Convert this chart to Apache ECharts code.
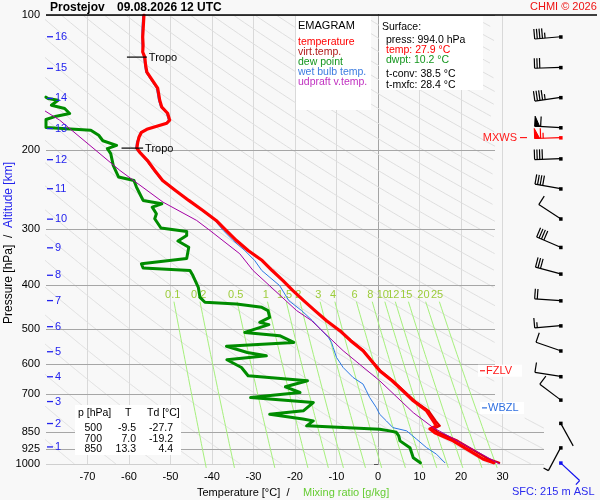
<!DOCTYPE html>
<html>
<head>
<meta charset="utf-8">
<title>Emagram Prostejov</title>
<script src="https://cdn.jsdelivr.net/npm/echarts@6.0.0/dist/echarts.min.js"></script>
<style>
html,body{margin:0;padding:0;background:#f8f8f8;}
#chart{width:600px;height:500px;}
</style>
</head>
<body>
<div id="chart"></div>
<script>
// ---------------- axis ticks / reference line labels ----------------
const pressureTicks = [100, 200, 300, 400, 500, 600, 700, 850, 925, 1000];
const tempTicks = [-70, -60, -50, -40, -30, -20, -10, 0, 10, 20, 30];
const mixingRatios = [0.1, 0.2, 0.5, 1, 1.5, 2, 3, 4, 6, 8, 10, 12, 15, 20, 25];
const potTemps = [190, 200, 210, 220, 230, 240, 250, 260, 270, 280, 290, 300, 310, 320, 330, 340, 350, 360, 370, 380, 390, 400, 410, 420, 430, 440, 450, 460, 470, 480, 490, 500, 510, 520, 530, 540, 550, 560, 570, 580, 590, 600];
const altitudeKm = [1, 2, 3, 4, 5, 6, 7, 8, 9, 10, 11, 12, 13, 14, 15, 16];
const altitudeP = [916.2, 812.6, 726.0, 639.3, 562.3, 494.5, 432.6, 379.9, 330.0, 284.9, 243.7, 210.0, 179.0, 153.4, 131.5, 111.8];

// ---------------- sounding profiles (p in hPa, T in °C) ----------------
const tempP = [994, 974.7, 935.1, 888.2, 852.4, 835.1, 822.3, 801.5, 761.3, 723.2, 687.0, 652.6, 619.9, 588.8, 559.4, 531.3, 504.7, 479.5, 455.4, 432.6, 411.0, 390.4, 370.8, 352.3, 334.6, 317.9, 301.9, 286.8, 272.5, 258.8, 245.9, 233.6, 221.9, 210.7, 202.2, 198.1, 192.1, 187.2, 182.5, 179.7, 176.9, 174.2, 171.5, 165.5, 160.4, 154.8, 150.9, 145.5, 139.7, 134.0, 129.3, 124.1, 120.9, 116.7, 112.0, 108.0, 100];
const tempT = [27.9, 25.3, 22.1, 18.1, 13.7, 12.5, 14.1, 13.3, 11.7, 8.5, 6.0, 3.4, 0.4, -1.6, -3.6, -6.6, -9.2, -12.4, -15.2, -17.9, -20.5, -22.9, -25.5, -27.9, -31.3, -34.1, -36.6, -39.0, -42.2, -45.6, -48.8, -51.9, -53.8, -55.6, -57.4, -58.1, -57.9, -57.6, -57.0, -55.7, -53.3, -50.9, -50.2, -50.7, -52.1, -52.6, -52.8, -53.1, -54.4, -55.7, -56.0, -56.2, -56.7, -56.6, -56.7, -56.6, -56.4];

const virtP = [994, 974.7, 935.1, 888.2, 852.4, 835.1, 822.3, 801.5, 761.3, 723.2, 687.0, 652.6, 619.9, 588.8, 559.4, 531.3, 504.7];
const virtT = [29.2, 26.6, 23.3, 19.2, 14.7, 13.4, 14.9, 13.9, 12.2, 8.8, 6.2, 3.6, 0.6, -1.5, -3.5, -6.5, -9.1];

const dewP = [994, 968.2, 919.6, 888.2, 866.0, 850, 843.7, 836.4, 822.3, 801.5, 793.6, 774.7, 761.3, 729.7, 711.2, 693.1, 673.1, 652.6, 636.0, 609.5, 585.8, 574.1, 564.4, 546.7, 536.1, 517.9, 509.2, 489.4, 483.7, 471.4, 455.4, 447.8, 440.0, 436.4, 425.4, 404.1, 380.5, 370.8, 366.1, 358.3, 348.7, 329.0, 318.7, 309.8, 303.5, 298.1, 284.3, 277.1, 267.9, 263.3, 258.8, 250.1, 241.7, 233.6, 229.6, 216.2, 203.6, 198.4, 195.1, 190.6, 185.3, 180.6, 178.1, 170.9, 168.0, 165.7, 161.5, 158.8, 154.8, 153.4, 152.4];
const dewT = [10.2, 8.5, 7.7, 5.3, 5.0, 4.4, 2.8, 0.4, -17.2, -15.6, -18.1, -26.1, -18.0, -15.6, -30.7, -18.8, -22.3, -17.0, -31.3, -32.9, -36.4, -26.9, -31.5, -36.5, -20.3, -23.7, -32.1, -26.3, -28.5, -26.1, -26.5, -28.0, -34.1, -41.7, -42.9, -43.3, -44.6, -45.3, -56.6, -57.0, -46.1, -45.6, -48.2, -46.1, -46.1, -52.3, -53.8, -53.4, -54.4, -52.1, -56.6, -57.4, -58.2, -58.8, -62.5, -63.8, -64.4, -65.2, -63.0, -66.3, -67.3, -69.2, -80.0, -80.0, -77.5, -74.3, -75.5, -78.7, -77.1, -79.5, -80.0];

const wetP = [993.4, 951.1, 919.6, 880.5, 843.7, 829.9, 801.5, 774.7, 748.7, 711.2, 687.0, 663.8, 641.7, 609.5, 578.9, 550.0, 536.1, 523.3, 499.6, 479.5, 455.4, 432.6, 400.6, 370.8, 352.3, 334.6, 317.9, 301.9, 286.8, 272.5, 258.8, 245.9, 233.6, 221.9, 210.7, 202.2, 198.1, 192.1, 182.5, 179.7, 176.9, 174.2, 171.5, 165.5, 160.4, 154.8, 145.5, 139.7, 134.0, 124.1, 116.7, 108.0, 100];
const wetT = [16.1, 14.1, 11.7, 9.3, 6.9, 3.6, 2.0, 0.4, -0.4, -2.0, -2.8, -3.6, -6.0, -8.4, -10.0, -10.8, -11.2, -11.9, -14.0, -15.8, -18.4, -21.5, -23.7, -28.0, -29.7, -32.1, -34.9, -37.3, -39.3, -42.5, -45.8, -49.1, -52.2, -54.1, -55.9, -57.7, -58.4, -58.2, -57.3, -56.0, -53.6, -51.2, -50.5, -51.0, -52.4, -52.9, -53.4, -54.7, -56.0, -56.5, -56.9, -56.9, -56.7];

const parcelP = [1000, 829.9, 768.4, 652.6, 559.4, 479.5, 455.4, 370.8, 340.3, 301.9, 286.8, 261.1, 221.9, 171.5, 163.0];
const parcelT = [29.3, 13.3, 8.5, 0.4, -8.4, -16.0, -19.6, -30.1, -33.3, -40.5, -43.7, -51.8, -62.2, -76.7, -80.5];

// tropopause marks
const tropoP = [124.1, 197.9];
const tropoT1 = [-60.5, -61.8];
const tropoT2 = [-55.7, -56.6];

// wind barbs: pressure, direction (deg), speed (kt)
const windP = [111.8, 130.8, 152.6, 178.1, 208.9, 243.7, 284.3, 329.0, 377.1, 432.6, 491.9, 559.4, 638.3, 719.7, 811.0, 919.6];
const windDir = [265, 268, 262, 273, 268, 280, 303, 293, 285, 274, 265, 289, 279, 307, 151, 208];
const windSpd = [45, 30, 45, 60, 40, 40, 10, 40, 30, 20, 15, 10, 10, 10, 2, 5];
const maxWindP = [187.5], maxWindDir = [268], maxWindSpd = [65];
const sfcWindP = [994], sfcWindDir = [133], sfcWindSpd = [5];

// level markers
const levelNames = ['FZLV', 'WBZL', 'MXWS'];
const levelP = [619.9, 749.9, 187.5];

// table values
const statP = [500, 700, 850];
const statT = [-9.5, 7.0, 13.3];
const statTd = [-27.7, -19.2, 4.4];

// ---------------- styling ----------------
const F = '"Liberation Sans", Arial, Helvetica, sans-serif';
const ALT_BLUE = '#2222ee';
const C_T = '#ff0000', C_TV = '#e00000', C_TD = '#008c00', C_WB = '#2a78e4', C_UP = '#a400a4';
const BARB_T = 44.0;   // column of wind barbs (beyond plotted temperature range)
const rightEdge = p => (p < 790 ? 28.2 : 40);

function dewFromMix(w, p) {
  const e = w * p / (622 + w);
  const l = Math.log(e / 6.112);
  return 243.5 * l / (17.67 - l);
}
const zip = (P, T) => P.map((p, i) => [T[i], p]);

// reference grid data
const vertLines = tempTicks.map(t => ({coords: [[t, 100], [t, 1000]], lineStyle: {color: t === 0 ? '#a4a4a4' : '#d9d9d9'}}));
const horLines = pressureTicks.map(p => ({coords: [[-80, p], [rightEdge(p), p]]}));
const dryLines = [];
potTemps.forEach(th => {
  let seg = [];
  for (let p = 100; p <= 1000; p += 2) {
    const T = th * Math.pow(p / 1000, 0.2857) - 273.15;
    if (T <= rightEdge(p)) seg.push([T, p]);
    else { if (seg.length > 1) dryLines.push({coords: seg}); seg = []; }
  }
  if (seg.length > 1) dryLines.push({coords: seg});
});
const mixLines = mixingRatios.map(w => {
  const c = [];
  for (let p = 435; p <= 1030; p += 15) c.push([dewFromMix(w, p), p]);
  return {coords: c};
});

const lineSeries = (name, data, color, width, z) => ({
  name, type: 'line', data, symbol: 'none', silent: true, animation: false, z,
  lineStyle: {color, width, cap: 'round', join: 'round'}
});

function renderBarb(params, api) {
  const p = api.value(1), dir = api.value(2), spd = api.value(3), kind = api.value(4);
  const c = api.coord([api.value(0), p]);
  const col = kind === 1 ? '#ff0000' : (kind === 2 ? '#1010ee' : '#000000');
  const L = 26, FL = 10, SP = 2.6;
  const r = dir * Math.PI / 180;
  const sx = Math.sin(r), sy = -Math.cos(r);
  const fx = -sy, fy = sx;
  const ex = c[0] + sx * L, ey = c[1] + sy * L;
  const ch = [{type: 'line', shape: {x1: c[0], y1: c[1], x2: ex, y2: ey}, style: {stroke: col, lineWidth: 1.2}}];
  let s = Math.round(spd / 5) * 5;
  const flags = Math.floor(s / 50); s -= flags * 50;
  const full = Math.floor(s / 10); s -= full * 10;
  const half = s >= 5 ? 1 : 0;
  let d = 0;
  for (let i = 0; i < flags; i++) {
    const ax = ex - sx * d, ay = ey - sy * d;
    ch.push({type: 'polygon', shape: {points: [[ax, ay], [ax + fx * FL, ay + fy * FL], [ex - sx * (d + 5), ey - sy * (d + 5)]]}, style: {fill: col, stroke: col, lineWidth: 1}});
    d += 6;
  }
  for (let i = 0; i < full; i++) {
    const ax = ex - sx * d, ay = ey - sy * d;
    ch.push({type: 'line', shape: {x1: ax, y1: ay, x2: ax + fx * FL, y2: ay + fy * FL}, style: {stroke: col, lineWidth: 1.2}});
    d += SP;
  }
  if (half) {
    const ax = ex - sx * d, ay = ey - sy * d;
    ch.push({type: 'line', shape: {x1: ax, y1: ay, x2: ax + fx * FL * 0.55, y2: ay + fy * FL * 0.55}, style: {stroke: col, lineWidth: 1.2}});
  }
  ch.push({type: 'rect', shape: {x: c[0] - 1.5, y: c[1] - 1.5, width: 3.5, height: 3.5}, style: {fill: col}});
  return {type: 'group', children: ch};
}

const barbData = windP.map((p, i) => [BARB_T, p, windDir[i], windSpd[i], 0])
  .concat(maxWindP.map((p, i) => [BARB_T, p, maxWindDir[i], maxWindSpd[i], 1]))
  .concat(sfcWindP.map((p, i) => [BARB_T, p, sfcWindDir[i], sfcWindSpd[i], 2]));

const series = [
  {type: 'lines', coordinateSystem: 'cartesian2d', polyline: false, silent: true, animation: false, z: 1,
   data: vertLines, lineStyle: {width: 1, opacity: 1}},
  {type: 'lines', coordinateSystem: 'cartesian2d', polyline: true, silent: true, animation: false, z: 1,
   data: dryLines, lineStyle: {color: '#dedede', width: 1, opacity: 1}},
  {type: 'lines', coordinateSystem: 'cartesian2d', polyline: false, silent: true, animation: false, z: 2,
   data: horLines, lineStyle: {color: '#a6a6a6', width: 1, opacity: 1}},
  {type: 'lines', coordinateSystem: 'cartesian2d', polyline: true, silent: true, animation: false, z: 2, clip: false,
   data: mixLines, lineStyle: {color: '#a6f07c', width: 1, opacity: 1}},
  {type: 'custom', coordinateSystem: 'cartesian2d', silent: true, animation: false, z: 3, clip: false,
   data: mixingRatios.map(w => [dewFromMix(w, 420), 420, w]),
   renderItem: (params, api) => {
     const c = api.coord([api.value(0), api.value(1)]);
     return {type: 'text', x: c[0], y: c[1], style: {text: String(api.value(2)), fill: '#9ccc3a', font: '11px ' + F, align: 'center', verticalAlign: 'middle'}};
   }},
  lineSeries('wet bulb temp.', zip(wetP, wetT), C_WB, 1, 5),
  lineSeries('dew point', zip(dewP, dewT), C_TD, 3, 6),
  lineSeries('virt.temp.', zip(virtP, virtT), C_TV, 2.2, 7),
  lineSeries('temperature', zip(tempP, tempT), C_T, 3.2, 8),
  lineSeries('udpraft v.temp.', zip(parcelP, parcelT), C_UP, 1, 9),
  // tropopause marks
  {type: 'custom', coordinateSystem: 'cartesian2d', silent: true, animation: false, z: 10, clip: false,
   data: tropoP.map((p, i) => [tropoT1[i], p, tropoT2[i]]),
   renderItem: (params, api) => {
     const a = api.coord([api.value(0), api.value(1)]);
     const b = api.coord([api.value(2), api.value(1)]);
     return {type: 'group', children: [
       {type: 'line', shape: {x1: a[0], y1: a[1], x2: b[0], y2: b[1]}, style: {stroke: '#000', lineWidth: 1.2}},
       {type: 'text', x: b[0] + 2, y: b[1] + 1, style: {text: 'Tropo', fill: '#000', font: '11px ' + F, align: 'left', verticalAlign: 'middle'}}
     ]};
   }},
  // altitude marks
  {type: 'custom', coordinateSystem: 'cartesian2d', silent: true, animation: false, z: 10, clip: false,
   data: altitudeP.map((p, i) => [-80, p, altitudeKm[i]]),
   renderItem: (params, api) => {
     const c = api.coord([api.value(0), api.value(1)]);
     return {type: 'group', children: [
       {type: 'line', shape: {x1: c[0] + 1, y1: c[1], x2: c[0] + 7, y2: c[1]}, style: {stroke: ALT_BLUE, lineWidth: 1.3}},
       {type: 'text', x: c[0] + 9, y: c[1], style: {text: String(api.value(2)), fill: ALT_BLUE, font: '11px ' + F, align: 'left', verticalAlign: 'middle'}}
     ]};
   }},
  // level markers
  {type: 'custom', coordinateSystem: 'cartesian2d', silent: true, animation: false, z: 12, clip: false,
   data: levelP.map((p, i) => [0, p, i]),
   renderItem: (params, api) => {
     const idx = api.value(2);
     const y = api.coord([0, api.value(1)])[1];
     const col = idx === 1 ? '#2f6fe0' : '#ff1a1a';
     const name = levelNames[idx];
     if (idx === 2) {
       return {type: 'group', children: [
         {type: 'line', shape: {x1: 520, y1: y, x2: 527, y2: y}, style: {stroke: col, lineWidth: 1.2}},
         {type: 'text', x: 517, y: y, style: {text: name, fill: col, font: '11px ' + F, align: 'right', verticalAlign: 'middle'}}
       ]};
     }
     const x0 = idx === 1 ? 481 : 479;
     return {type: 'group', children: [
       {type: 'rect', shape: {x: x0 - 1, y: y - 6, width: 44, height: 12}, style: {fill: '#ffffff'}},
       {type: 'line', shape: {x1: x0 + 1, y1: y, x2: x0 + 6, y2: y}, style: {stroke: col, lineWidth: 1.2}},
       {type: 'text', x: x0 + 7, y: y, style: {text: name, fill: col, font: '11px ' + F, align: 'left', verticalAlign: 'middle'}}
     ]};
   }},
  // wind barbs
  {type: 'custom', coordinateSystem: 'cartesian2d', silent: true, animation: false, z: 12, clip: false,
   data: barbData, renderItem: renderBarb}
];

// ---------------- graphic texts ----------------
const T = (x, y, text, fill, font, align) => ({type: 'text', x, y, z: 31, silent: true,
  style: {text, fill: fill || '#000', font: font || ('10.5px ' + F), align: align || 'left', verticalAlign: 'middle'}});

const graphic = [
  {type: 'rect', z: 30, silent: true, shape: {x: 296, y: 16, width: 75, height: 94}, style: {fill: '#ffffff'}},
  {type: 'rect', z: 30, silent: true, shape: {x: 379, y: 16, width: 104, height: 74}, style: {fill: '#ffffff'}},
  {type: 'rect', z: 30, silent: true, shape: {x: 75, y: 405, width: 106, height: 50}, style: {fill: '#ffffff'}},
  {type: 'line', z: 31, silent: true, shape: {x1: 46, y1: 15, x2: 597, y2: 15}, style: {stroke: '#000', lineWidth: 1.5}},
  T(50, 8, 'Prostejov', '#000', 'bold 12px ' + F),
  T(117, 8, '09.08.2026 12 UTC', '#000', 'bold 12px ' + F),
  T(530, 7, 'CHMI © 2026', '#ee1111', '11px ' + F),
  T(298, 26, 'EMAGRAM', '#000', '11px ' + F),
  T(298, 42, 'temperature', C_T),
  T(298, 52, 'virt.temp.', '#b01818'),
  T(298, 62, 'dew point', '#14961e'),
  T(298, 72, 'wet bulb temp.', '#3c7ce0'),
  T(298, 82, 'udpraft v.temp.', '#c030c0'),
  T(382, 27, 'Surface:'),
  T(386, 40, 'press: 994.0 hPa'),
  T(386, 50, 'temp: 27.9 °C', C_T),
  T(386, 60, 'dwpt: 10.2 °C', '#14961e'),
  T(386, 74, 't-conv: 38.5 °C'),
  T(386, 85, 't-mxfc: 28.4 °C'),
  T(78, 413, 'p [hPa]'),
  T(125, 413, 'T'),
  T(147, 413, 'Td [°C]'),
  T(197, 493, 'Temperature [°C]  /', '#000', '11px ' + F),
  T(303, 493, 'Mixing ratio [g/kg]', '#66cc33', '11px ' + F),
  T(512, 492, 'SFC: 215 m ASL', '#2a2aee', '11px ' + F),
  {type: 'text', x: 9, y: 243, rotation: Math.PI / 2, z: 31, silent: true,
   style: {text: '{a|Pressure [hPa]  /  }{b|Altitude [km]}', align: 'center', verticalAlign: 'middle', font: '12px ' + F,
     rich: {a: {fill: '#000', font: '12px ' + F}, b: {fill: ALT_BLUE, font: '12px ' + F}}}}
];
statP.forEach((p, i) => {
  const y = 428.5 + i * 10.3;
  graphic.push(T(102, y, String(p), '#000', null, 'right'));
  graphic.push(T(136, y, statT[i].toFixed(1), '#000', null, 'right'));
  graphic.push(T(173, y, statTd[i].toFixed(1), '#000', null, 'right'));
});

const option = {
  backgroundColor: '#f8f8f8',
  animation: false,
  grid: {left: 46, right: 56, top: 15, bottom: 36, show: false, containLabel: false},
  xAxis: {
    type: 'value', min: -80, max: 40, interval: 10,
    axisLine: {show: false}, axisTick: {show: false}, splitLine: {show: false},
    axisLabel: {color: '#000', fontSize: 11, fontFamily: F, margin: 7,
      formatter: v => (tempTicks.indexOf(v) >= 0 ? String(v) : '')}
  },
  yAxis: {
    type: 'log', logBase: 10, min: 100, max: 1000, inverse: true,
    axisLine: {show: true, lineStyle: {color: '#000', width: 1}},
    axisTick: {show: true, length: 4, customValues: pressureTicks, lineStyle: {color: '#000'}},
    axisLabel: {show: true, customValues: pressureTicks, color: '#000', fontSize: 11, fontFamily: F, margin: 6,
      formatter: v => String(Math.round(v))},
    splitLine: {show: false}, minorTick: {show: false}
  },
  series,
  graphic
};

const chart = echarts.init(document.getElementById('chart'), null, {renderer: 'canvas', width: 600, height: 500});
chart.setOption(option);
</script>
</body>
</html>
